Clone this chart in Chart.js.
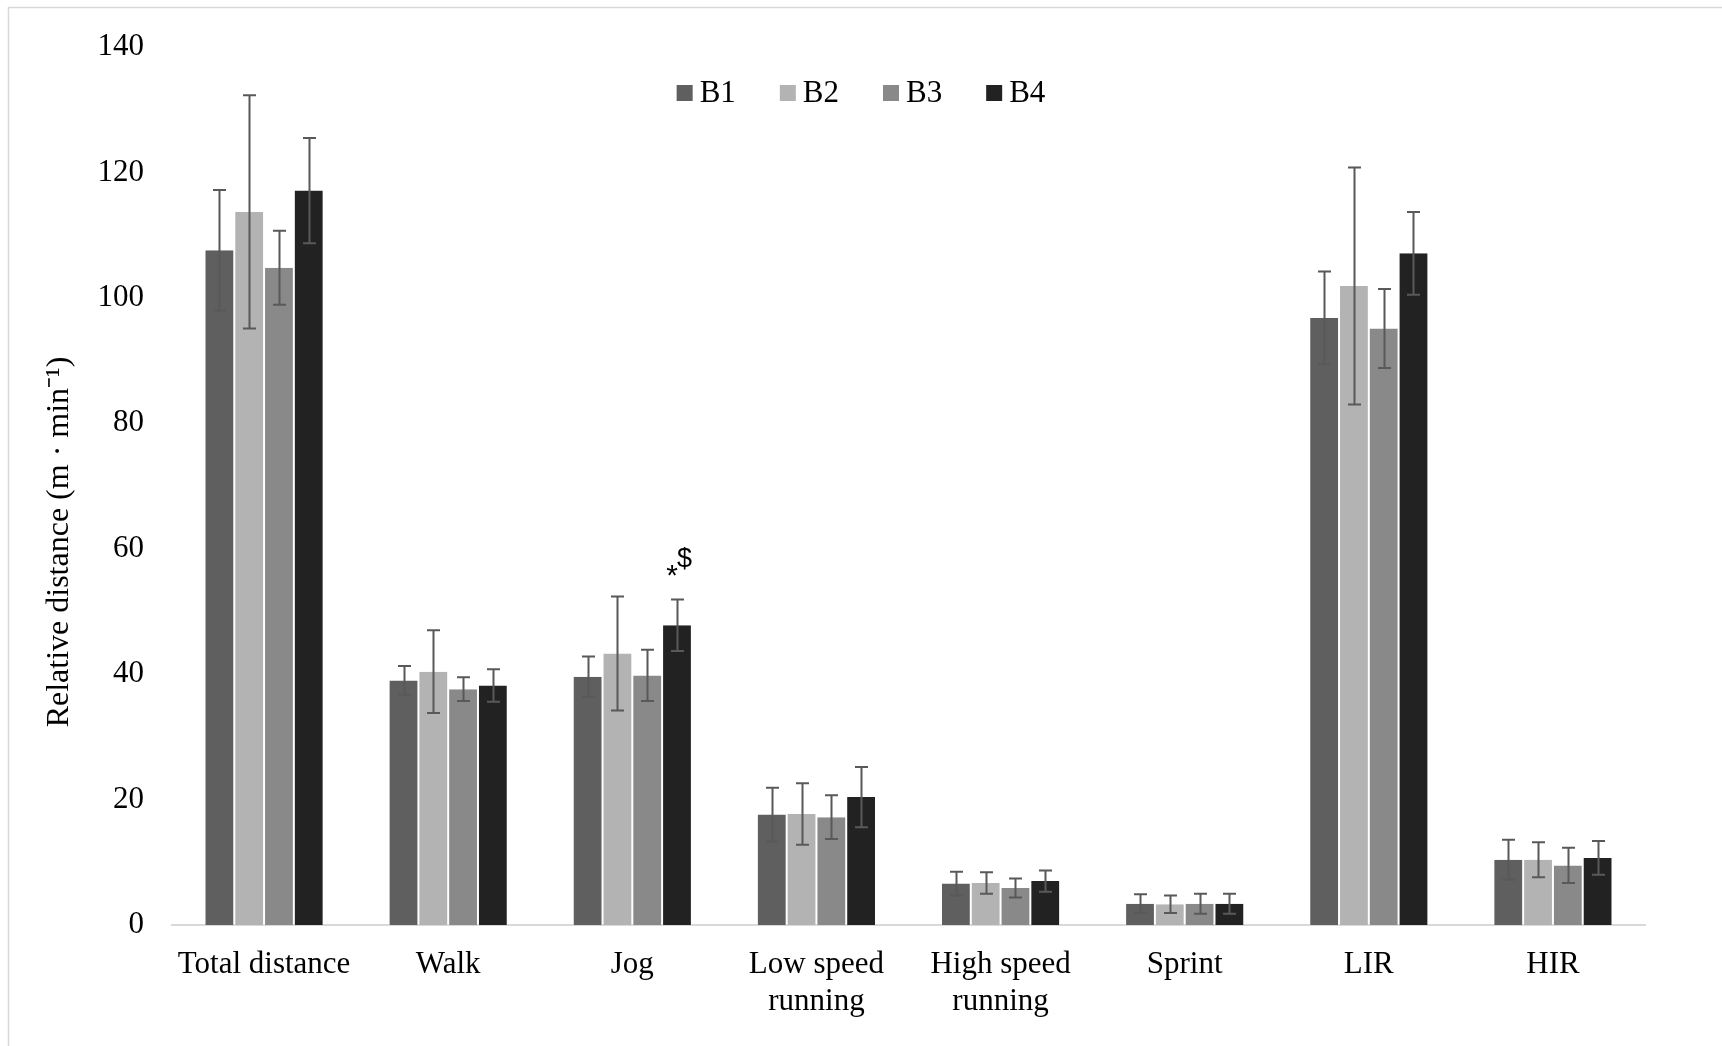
<!DOCTYPE html>
<html>
<head>
<meta charset="utf-8">
<script src="https://cdn.jsdelivr.net/npm/chart.js@4/dist/chart.umd.min.js"></script>
<style>
  html, body { margin: 0; padding: 0; background: #ffffff; }
  #wrap { width: 1722px; height: 1046px; position: relative; }
  canvas { display: block; }
</style>
</head>
<body>
<div id="wrap"><canvas id="c" width="1722" height="1046"></canvas></div>
<script>
// ---- Data ----
const categories = ['Total distance', 'Walk', 'Jog', ['Low speed', 'running'], ['High speed', 'running'], 'Sprint', 'LIR', 'HIR'];
const seriesNames = ['B1', 'B2', 'B3', 'B4'];
const b1Values = [107.6, 39.0, 39.6, 17.6, 6.6, 3.4, 96.8, 10.4];
const b2Values = [113.7, 40.4, 43.3, 17.7, 6.7, 3.3, 101.9, 10.4];
const b3Values = [104.8, 37.6, 39.8, 17.2, 5.9, 3.4, 95.1, 9.5];
const b4Values = [117.1, 38.2, 47.8, 20.4, 7.0, 3.4, 107.1, 10.7];
const b1Errors = [9.6, 2.3, 3.2, 4.3, 1.9, 1.5, 7.4, 3.2];
const b2Errors = [18.6, 6.6, 9.1, 4.9, 1.7, 1.4, 18.9, 2.8];
const b3Errors = [5.9, 1.9, 4.1, 3.5, 1.5, 1.6, 6.3, 2.8];
const b4Errors = [8.4, 2.6, 4.1, 4.8, 1.7, 1.6, 6.6, 2.7];
const yTicks = [0, 20, 40, 60, 80, 100, 120, 140];
const yTitle = 'Relative distance (m \u00b7 min\u207b\u00b9)';
const significance = [{ category: 2, series: 3, marks: ['*', '$'] }];

// ---- Styles ----
const colors = ['#5f5f5f', '#b3b3b3', '#898989', '#222222'];
const errColor = '#595959';
const FONT = "'Liberation Serif', 'Times New Roman', serif";
const FS = 31;

const values = [b1Values, b2Values, b3Values, b4Values];
const errors = [b1Errors, b2Errors, b3Errors, b4Errors];

Chart.defaults.font.family = FONT;
Chart.defaults.font.size = FS;
Chart.defaults.color = '#000000';

const frame = {
  id: 'frame',
  beforeDraw(chart) {
    const ctx = chart.ctx;
    ctx.save();
    ctx.fillStyle = '#ffffff';
    ctx.fillRect(0, 0, chart.width, chart.height);
    ctx.strokeStyle = '#d9d9d9';
    ctx.lineWidth = 1.5;
    ctx.beginPath();
    ctx.moveTo(8.5, chart.height);
    ctx.lineTo(8.5, 7.5);
    ctx.lineTo(chart.width, 7.5);
    ctx.stroke();
    ctx.restore();
  }
};

const errorBars = {
  id: 'errorBars',
  afterDatasetsDraw(chart) {
    const ctx = chart.ctx;
    const y = chart.scales.y;
    ctx.save();
    ctx.strokeStyle = errColor;
    ctx.lineWidth = 2;
    chart.data.datasets.forEach((ds, di) => {
      const meta = chart.getDatasetMeta(di);
      meta.data.forEach((bar, i) => {
        const v = ds.data[i];
        const e = errors[di][i];
        const yt = y.getPixelForValue(v + e);
        const yb = y.getPixelForValue(v - e);
        const x = Math.round(bar.x) + 0.5;
        ctx.beginPath();
        ctx.moveTo(x, yt); ctx.lineTo(x, yb);
        ctx.moveTo(x - 6.5, yt); ctx.lineTo(x + 6.5, yt);
        ctx.moveTo(x - 6.5, yb); ctx.lineTo(x + 6.5, yb);
        ctx.stroke();
      });
    });
    // significance marks
    significance.forEach(s => {
      const bar = chart.getDatasetMeta(s.series).data[s.category];
      const v = values[s.series][s.category] + errors[s.series][s.category];
      const yTop = y.getPixelForValue(v);
      const cx = bar.x;
      ctx.fillStyle = '#000000';
      ctx.textBaseline = 'alphabetic';
      ctx.font = "30px 'Liberation Sans', Arial, sans-serif";
      ctx.textAlign = 'center';
      ctx.fillText(s.marks[0], cx - 5, yTop - 15);
      ctx.font = "27px 'Liberation Sans', Arial, sans-serif";
      ctx.textAlign = 'left';
      ctx.fillText(s.marks[1], cx, yTop - 33);
    });
    ctx.restore();
  }
};

const legendPlugin = {
  id: 'customLegend',
  afterDraw(chart) {
    const ctx = chart.ctx;
    ctx.save();
    ctx.font = FS + 'px ' + FONT;
    const box = 16, gapText = 7, gapItem = 44;
    const widths = chart.data.datasets.map(ds => box + gapText + ctx.measureText(ds.label).width);
    const total = widths.reduce((a, b) => a + b, 0) + gapItem * (widths.length - 1);
    let x = chart.width / 2 - total / 2;
    const cy = 93;
    chart.data.datasets.forEach((ds, i) => {
      ctx.fillStyle = ds.backgroundColor;
      ctx.fillRect(x, cy - box / 2, box, box);
      ctx.fillStyle = '#000000';
      ctx.textBaseline = 'middle';
      ctx.textAlign = 'left';
      ctx.fillText(ds.label, x + box + gapText, cy + 1);
      x += widths[i] + gapItem;
    });
    ctx.restore();
  }
};

new Chart(document.getElementById('c'), {
  type: 'bar',
  data: {
    labels: categories,
    datasets: seriesNames.map((name, i) => ({
      label: name,
      data: values[i],
      backgroundColor: colors[i],
      borderColor: 'rgba(255,255,255,0.45)',
      borderWidth: { top: 0, left: 1, right: 1, bottom: 0 },
      categoryPercentage: 0.647,
      barPercentage: 1.0
    }))
  },
  options: {
    responsive: false,
    animation: false,
    events: [],
    layout: { padding: { left: 0, right: 77, top: 47, bottom: 0 } },
    plugins: {
      legend: { display: false },
      tooltip: { enabled: false },
      title: { display: false }
    },
    scales: {
      x: {
        grid: { display: false, drawTicks: false },
        border: { display: true, color: '#d9d9d9', width: 2 },
        ticks: { padding: 21, font: { size: FS, family: FONT, lineHeight: 1.2 }, color: '#000000', maxRotation: 0, autoSkip: false },
        afterFit(scale) { scale.height = 121; }
      },
      y: {
        min: 0,
        max: 140,
        afterBuildTicks(scale) { scale.ticks = yTicks.map(v => ({ value: v })); },
        grid: { display: false, drawTicks: false },
        border: { display: false },
        ticks: { padding: 28, font: { size: FS, family: FONT }, color: '#000000' },
        title: {
          display: true,
          text: yTitle + '              ',
          font: { size: 32, family: FONT },
          color: '#000000',
          padding: { top: 40, bottom: 0 }
        },
        afterFit(scale) { scale.width = 172; }
      }
    }
  },
  plugins: [frame, errorBars, legendPlugin]
});
</script>
</body>
</html>
